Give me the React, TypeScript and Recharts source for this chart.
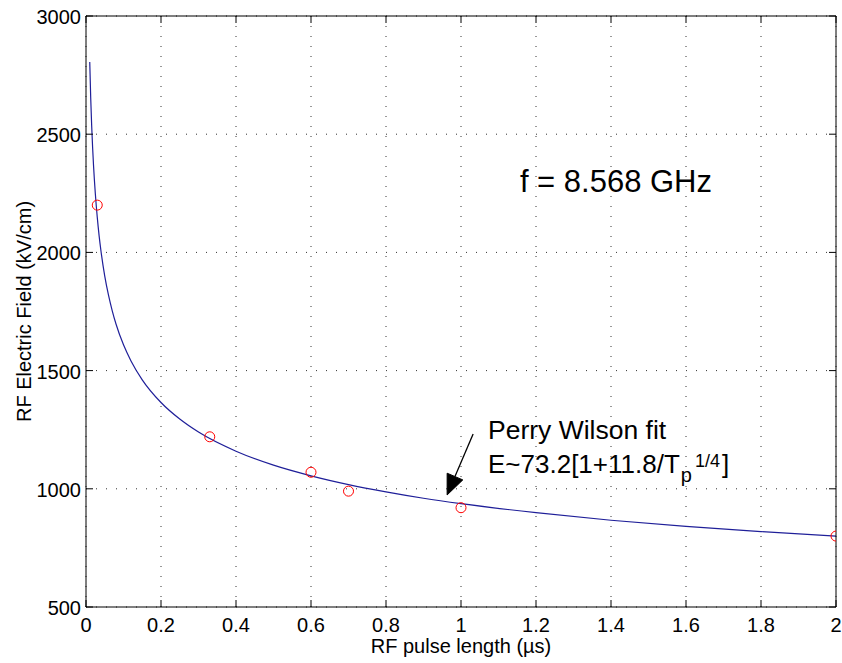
import React from 'react';
import {
  ComposedChart,
  Line,
  Scatter,
  XAxis,
  YAxis,
  CartesianGrid,
  ReferenceDot,
} from 'recharts';

// Measured data points (RF pulse length µs, field kV/cm)
const measuredX = [0.03, 0.33, 0.6, 0.7, 1.0, 2.0];
const measuredY = [2200, 1220, 1070, 990, 920, 800];

// Perry Wilson fit curve
const fitX = [
  0.01, 0.0125, 0.015, 0.0175, 0.02, 0.025, 0.03, 0.035, 0.04, 0.05, 0.06, 0.07, 0.08,
  0.1, 0.12, 0.15, 0.2, 0.25, 0.3, 0.4, 0.5, 0.6, 0.7, 0.8, 0.9, 1.0, 1.2, 1.4, 1.6, 1.8, 2.0,
];
const fitY = [
  2805, 2656, 2541, 2448, 2370, 2246, 2149, 2070, 2005, 1900, 1819, 1753, 1697,
  1609, 1541, 1461, 1365, 1295, 1240, 1159, 1100, 1055, 1018, 987, 960, 937, 899, 867, 841, 819, 800,
];

const xTicks = [0, 0.2, 0.4, 0.6, 0.8, 1, 1.2, 1.4, 1.6, 1.8, 2];
const yTicks = [500, 1000, 1500, 2000, 2500, 3000];

const xLabel = 'RF pulse length (\u00b5s)';
const yLabel = 'RF Electric Field (kV/cm)';
const freqText = 'f = 8.568 GHz';
const fitTitle = 'Perry Wilson fit';

const measured = measuredX.map((x, i) => ({ x, y: measuredY[i] }));
const fit = fitX.map((x, i) => ({ x, y: fitY[i] }));

const FONT = '"Liberation Sans", Arial, Helvetica, sans-serif';
const TICK_LEN = 7;
const AXIS_FS = 20;

const BottomTick = (props: any) => {
  const { x, y, payload } = props;
  return (
    <g>
      <line x1={x} x2={x} y1={y} y2={y - TICK_LEN} stroke="#000" strokeWidth={1} />
      <text x={x} y={y + 25} textAnchor="middle" fontSize={AXIS_FS} fontFamily={FONT} fill="#000">
        {String(payload.value)}
      </text>
    </g>
  );
};

const TopTick = (props: any) => {
  const { x, y } = props;
  return <line x1={x} x2={x} y1={y} y2={y + TICK_LEN} stroke="#000" strokeWidth={1} />;
};

const LeftTick = (props: any) => {
  const { x, y, payload } = props;
  return (
    <g>
      <line x1={x} x2={x + TICK_LEN} y1={y} y2={y} stroke="#000" strokeWidth={1} />
      <text x={x - 5} y={y + 8} textAnchor="end" fontSize={AXIS_FS} fontFamily={FONT} fill="#000">
        {String(payload.value)}
      </text>
    </g>
  );
};

const RightTick = (props: any) => {
  const { x, y } = props;
  return <line x1={x} x2={x - TICK_LEN} y1={y} y2={y} stroke="#000" strokeWidth={1} />;
};

const XLabel = (props: any) => {
  const vb = props.viewBox || { x: 86, y: 607, width: 750, height: 56 };
  return (
    <text
      x={vb.x + vb.width / 2}
      y={vb.y + 46}
      textAnchor="middle"
      fontSize={AXIS_FS}
      fontFamily={FONT}
      fill="#000"
    >
      {xLabel}
    </text>
  );
};

const YLabel = (props: any) => {
  const vb = props.viewBox || { x: 0, y: 16, width: 86, height: 591 };
  const cx = vb.x + 31;
  const cy = vb.y + vb.height / 2;
  return (
    <text
      x={cx}
      y={cy}
      transform={`rotate(-90, ${cx}, ${cy})`}
      textAnchor="middle"
      fontSize={AXIS_FS}
      fontFamily={FONT}
      fill="#000"
    >
      {yLabel}
    </text>
  );
};

const Circle = (props: any) => {
  const { cx, cy } = props;
  return <circle cx={cx} cy={cy} r={5} fill="none" stroke="#ff0000" strokeWidth={1} />;
};

const FreqLabel = (props: any) => (
  <text x={props.cx} y={props.cy} fontSize={31} fontFamily={FONT} fill="#000">
    {freqText}
  </text>
);

const FitLabel = (props: any) => {
  const { cx, cy } = props;
  return (
    <g>
      <text x={cx} y={cy} fontSize={26.5} fontFamily={FONT} fill="#000">
        {fitTitle}
      </text>
      <text x={cx} y={cy + 34} fontSize={26} fontFamily={FONT} fill="#000">
        E~73.2[1+11.8/T
        <tspan fontSize={20} dx={1} dy={9}>p</tspan>
        <tspan fontSize={18} dx={3} dy={-15}>1/4</tspan>
        <tspan fontSize={26} dx={2} dy={6}>]</tspan>
      </text>
    </g>
  );
};

const Arrow = (props: any) => {
  const { cx, cy } = props;
  const sx = cx + 26;
  const sy = cy - 61;
  const len = Math.hypot(sx - cx, sy - cy);
  const ux = (sx - cx) / len;
  const uy = (sy - cy) / len;
  const hl = 20;
  const hw = 8.5;
  const bx = cx + ux * hl;
  const by = cy + uy * hl;
  const px = -uy;
  const py = ux;
  return (
    <g>
      <line x1={sx} y1={sy} x2={bx} y2={by} stroke="#000" strokeWidth={1.3} />
      <polygon
        points={`${cx},${cy} ${bx + px * hw},${by + py * hw} ${bx - px * hw},${by - py * hw}`}
        fill="#000"
        stroke="#000"
      />
    </g>
  );
};

export default function App() {
  return (
    <div style={{ position: 'absolute', left: 0, top: 0, width: 842, height: 663, background: '#fff' }}>
      <ComposedChart width={842} height={663} margin={{ top: 0, right: 0, bottom: 0, left: 0 }}>
        <CartesianGrid stroke="#333" strokeDasharray="1 9" strokeWidth={1} />
        <XAxis
          dataKey="x"
          type="number"
          domain={[0, 2]}
          ticks={xTicks}
          interval={0}
          allowDataOverflow
          height={56}
          tickSize={0}
          tickMargin={0}
          tickLine={false}
          axisLine={{ stroke: '#000', strokeWidth: 1 }}
          tick={<BottomTick />}
          label={<XLabel />}
        />
        <XAxis
          xAxisId="top"
          orientation="top"
          dataKey="x"
          type="number"
          domain={[0, 2]}
          ticks={xTicks}
          interval={0}
          allowDataOverflow
          height={16}
          tickSize={0}
          tickMargin={0}
          tickLine={false}
          axisLine={{ stroke: '#000', strokeWidth: 1 }}
          tick={<TopTick />}
        />
        <YAxis
          type="number"
          domain={[500, 3000]}
          ticks={yTicks}
          interval={0}
          allowDataOverflow
          width={86}
          tickSize={0}
          tickMargin={0}
          tickLine={false}
          axisLine={{ stroke: '#000', strokeWidth: 1 }}
          tick={<LeftTick />}
          label={<YLabel />}
        />
        <YAxis
          yAxisId="right"
          orientation="right"
          type="number"
          domain={[500, 3000]}
          ticks={yTicks}
          interval={0}
          allowDataOverflow
          width={6}
          tickSize={0}
          tickMargin={0}
          tickLine={false}
          axisLine={{ stroke: '#000', strokeWidth: 1 }}
          tick={<RightTick />}
        />
        <Line
          data={fit}
          dataKey="y"
          type="monotone"
          dot={false}
          activeDot={false}
          stroke="#1f1f99"
          strokeWidth={1.2}
          isAnimationActive={false}
        />
        <Scatter data={measured} dataKey="y" shape={<Circle />} isAnimationActive={false} />
        <ReferenceDot x={1.157} y={2255} shape={<FreqLabel />} />
        <ReferenceDot x={1.072} y={1211} shape={<FitLabel />} />
        <ReferenceDot x={0.963} y={974} shape={<Arrow />} />
      </ComposedChart>
    </div>
  );
}
